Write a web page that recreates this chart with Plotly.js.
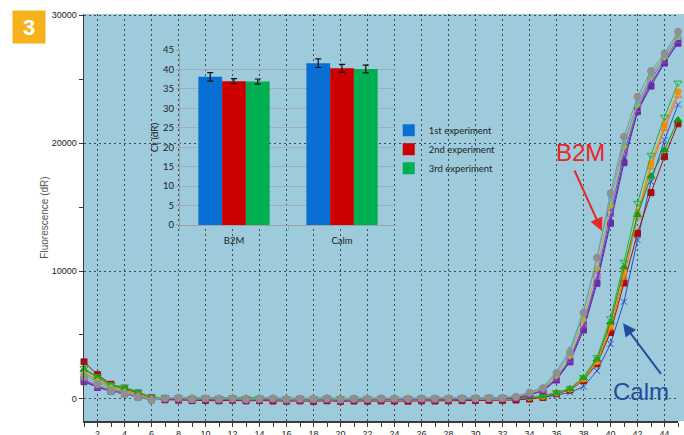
<!DOCTYPE html>
<html>
<head>
<meta charset="utf-8">
<script src="https://cdn.plot.ly/plotly-3.0.1.min.js"></script>
<style>html,body{margin:0;padding:0;background:#fff;}#chart{width:684px;height:435px;}</style>
</head>
<body>
<div id="chart"></div>
<script>
// ---- amplification curves (cycle 1..45) ----
const cycles = [1,2,3,4,5,6,7,8,9,10,11,12,13,14,15,16,17,18,19,20,21,22,23,24,25,26,27,28,29,30,31,32,33,34,35,36,37,38,39,40,41,42,43,44,45];

const b2mGray   = [1700,1150,600,380,120,-120, 60,80,-20,40,0,30,-20,10,40,-30,20,-10,30,-40,20,10,40,30,20,50,30,40,60,50,80,70, 180,490,850,2020,3650,6740,11040,16070,20490,23620,25620,27000,28700];
const b2mCyan   = [1900,1300,800,500,200,-50, 90,60,30,70,20,50,10,40,60,0,40,20,50,-10,40,30,60,50,40,70,50,60,80,70,110,100, 200,520,950,2150,3900,6900,11000,15700,20000,23200,25300,26800,28400];
const b2mOlive  = [2000,1400,900,550,250,0, 120,100,40,80,30,60,20,50,70,10,50,30,60,0,50,40,70,60,50,80,60,70,90,80,120,120, 170,420,780,1800,3350,6200,10200,15100,19700,23000,25200,26700,28300];
const b2mViolet = [1500,1000,700,450,200,-30, 50,30,-40,20,-30,0,-50,-20,10,-60,-10,-40,0,-70,-20,-30,0,-10,-20,10,-10,0,20,10,50,60, 110,380,720,1650,3100,5800,9600,14500,19200,22700,25000,26500,28100];
const b2mBlue   = [1400,950,650,420,180,-40, 40,20,-50,10,-40,-10,-60,-30,0,-70,-20,-50,-10,-80,-30,-40,-10,-20,-30,0,-20,-10,10,0,40,50, 90,350,680,1550,3000,5600,9300,14000,18800,22500,24700,26300,27900];
const b2mPurple = [1350,900,600,400,150,-60, 20,0,-70,-10,-60,-30,-80,-50,-20,-90,-40,-70,-30,-100,-50,-60,-30,-40,-50,-20,-40,-30,-10,-20,20,30, 60,300,630,1480,2900,5390,9040,13730,18460,22450,24450,26250,27800];

const calmGreenOpen = [2400,1750,1100,960,570,150, 100,120,80,90,60,100,70,80,60,40,60,50,80,40,60,50,70,60,50,70,60,80,90,100,120,110, 120,150,260,500,820,1700,3250,6300,10700,15300,19060,22030,24700];
const calmOrange    = [2100,1500,1000,700,400,80, 80,100,60,70,40,80,50,60,40,20,40,30,60,20,40,30,50,40,30,50,40,60,70,80,90,80, 90,110,200,470,770,1560,2950,5700,9900,14500,18400,21400,24000];
const calmOrangeTri = [2000,1450,950,650,350,60, 60,80,40,50,20,60,30,40,20,0,20,10,40,0,20,10,30,20,10,30,20,40,50,60,70,60, 70,90,180,450,740,1500,2850,5500,9500,14200,18100,21100,23700];
const calmGreen     = [2300,1650,1050,850,500,120, 90,110,70,80,50,90,60,70,50,30,50,40,70,30,50,40,60,50,40,60,50,70,80,90,100,90, 100,130,230,490,800,1650,3100,6000,10300,14400,17400,19450,21800];
const calmDarkRed   = [2900,1900,1150,800,450,100, -60,-90,-130,-110,-140,-100,-150,-120,-160,-170,-150,-180,-140,-190,-160,-170,-150,-160,-170,-150,-160,-140,-130,-120,-100,-110, -80,0,120,420,700,1450,2750,5200,9060,12940,16120,18930,21500];
const calmBlueX     = [1500,960,700,500,250,20, 40,60,0,30,-20,20,-10,10,-20,-40,-20,-30,0,-40,-20,-30,-10,-20,-30,-10,-20,0,10,20,30,20, 30,50,120,300,500,960,2200,4300,7600,12420,16980,20230,23000];

// ---- inset bar chart (Ct) ----
const genes = ['B2M', 'Calm'];
const expNames = ['1st experiment', '2nd experiment', '3rd experiment'];
const ct1 = [38.1, 41.6];
const ct2 = [37.0, 40.3];
const ct3 = [36.9, 40.1];
const err1 = [1.1, 1.1];
const err2 = [0.65, 1.0];
const err3 = [0.65, 1.0];

// ---- styles ----
const curveStyles = [
  {y: calmBlueX,     color: '#2d4fc4', symbol: 'x-thin-open',        size: 6},
  {y: calmDarkRed,   color: '#a50f0f', symbol: 'square',             size: 6},
  {y: calmOrangeTri, color: '#e8701a', symbol: 'triangle-up-open',   size: 6},
  {y: calmOrange,    color: '#ff8a00', symbol: 'circle',             size: 6},
  {y: calmGreen,     color: '#159a15', symbol: 'triangle-up',        size: 7},
  {y: calmGreenOpen, color: '#2fb02f', symbol: 'triangle-down-open', size: 7},
  {y: b2mPurple,     color: '#6f2aa0', symbol: 'square',             size: 6},
  {y: b2mBlue,       color: '#3a3fb8', symbol: 'triangle-up',        size: 4},
  {y: b2mViolet,     color: '#a43fc4', symbol: 'square-open',        size: 6},
  {y: b2mOlive,      color: '#b3ad2e', symbol: 'diamond',            size: 5},
  {y: b2mCyan,       color: '#3fb6c6', symbol: 'circle',             size: 4},
  {y: b2mGray,       color: '#8f8f8f', symbol: 'circle',             size: 7}
];

const traces = curveStyles.map(s => ({
  type: 'scatter', mode: 'lines+markers',
  x: cycles, y: s.y, xaxis: 'x', yaxis: 'y',
  line: {color: s.color, width: 1},
  marker: {color: s.color, symbol: s.symbol, size: s.size, line: {color: s.color, width: 1}},
  cliponaxis: false, showlegend: false, hoverinfo: 'skip'
}));

const barColors = ['#0a6fd2', '#cc0000', '#00b050'];
const barVals = [ct1, ct2, ct3];
const barErrs = [err1, err2, err3];
barVals.forEach((v, i) => {
  traces.push({
    type: 'bar', x: genes, y: v, name: expNames[i],
    xaxis: 'x2', yaxis: 'y2',
    marker: {color: barColors[i], line: {width: 0}},
    error_y: {type: 'data', array: barErrs[i], color: '#111', thickness: 1.2, width: 3},
    showlegend: true
  });
});

const bgBlue = '#9dcbdc';
const gridDots = '1.5px,3.5px';
const layout = {
  width: 684, height: 435,
  margin: {l: 84, r: 6, t: 14, b: 14, pad: 0},
  paper_bgcolor: '#ffffff',
  plot_bgcolor: 'rgba(0,0,0,0)',
  font: {family: 'Liberation Sans, Arial, sans-serif', size: 9, color: '#222'},
  barmode: 'group', bargap: 0.34, bargroupgap: 0,
  xaxis: {
    range: [1, 45], tick0: 0, dtick: 2,
    showgrid: true, gridcolor: '#3c4c53', griddash: gridDots, gridwidth: 1,
    zeroline: false, showline: true, linecolor: '#3a3a3a', linewidth: 1.5,
    ticks: 'outside', ticklen: 4, tickcolor: '#3a3a3a',
    minor: {dtick: 1, ticks: 'outside', ticklen: 4, tickcolor: '#3a3a3a', showgrid: false},
    tickfont: {size: 9, color: '#222'}
  },
  yaxis: {
    range: [-1720, 30080], tick0: 0, dtick: 10000, tickformat: 'd',
    showgrid: true, gridcolor: '#3c4c53', griddash: gridDots, gridwidth: 1,
    zeroline: false, showline: true, linecolor: '#3a3a3a', linewidth: 1.5,
    ticks: 'outside', ticklen: 4, tickcolor: '#3a3a3a',
    minor: {dtick: 5000, ticks: 'outside', ticklen: 4, tickcolor: '#3a3a3a', showgrid: false},
    tickfont: {size: 9, color: '#222'},
    title: {text: 'Fluorescence (dR)', font: {size: 10, color: '#555'}, standoff: 1}
  },
  xaxis2: {
    domain: [0.1616, 0.5253], anchor: 'y2', type: 'category',
    showgrid: false, zeroline: false, showline: true, linecolor: '#9aa4a8', linewidth: 1,
    ticks: 'outside', tickson: 'boundaries', ticklen: 4, tickcolor: '#9aa4a8',
    ticklabelstandoff: 7,
    tickfont: {family: 'Lato, sans-serif', size: 9.5, color: '#222'}
  },
  yaxis2: {
    domain: [0.4816, 0.9115], anchor: 'x2', range: [0, 45], dtick: 5,
    showgrid: true, gridcolor: '#a3aeb3', gridwidth: 1,
    zeroline: false, showline: true, linecolor: '#9aa4a8', linewidth: 1,
    ticks: 'outside', ticklen: 3, tickcolor: '#9aa4a8',
    tickfont: {family: 'Lato, sans-serif', size: 9.5, color: '#222'},
    title: {text: 'Ct (dR)', font: {family: 'Lato, sans-serif', size: 10, color: '#222'}, standoff: 2}
  },
  legend: {
    x: 0.513, y: 0.750, xanchor: 'left', yanchor: 'top',
    bgcolor: 'rgba(0,0,0,0)', borderwidth: 0, itemwidth: 30,
    font: {family: 'Lato, sans-serif', size: 9.5, color: '#222'},
    tracegroupgap: 0
  },
  shapes: [
    {type: 'rect', xref: 'paper', yref: 'paper', x0: 0, x1: 1.0101, y0: 0, y1: 1,
     layer: 'below', fillcolor: bgBlue, line: {width: 0}}
  ],
  annotations: [
    {xref: 'paper', yref: 'paper', x: -0.0926, y: 0.968, xanchor: 'center', yanchor: 'middle',
     text: '<b>3</b>', showarrow: false, width: 32, height: 32, bgcolor: '#f5b21a', borderpad: 0,
     font: {family: 'Liberation Sans, Arial, sans-serif', size: 22, color: '#ffffff'}},
    {xref: 'x', yref: 'y', x: 37.8, y: 19220, text: 'B2M', showarrow: false,
     font: {family: 'Liberation Sans, Arial, sans-serif', size: 24, color: '#e8262a'}},
    {xref: 'x', yref: 'y', x: 39.36, y: 13125, ax: -28, ay: -62, text: '', showarrow: true,
     arrowhead: 2, arrowsize: 1.3, arrowwidth: 2, arrowcolor: '#e8262a', standoff: 0},
    {xref: 'x', yref: 'y', x: 42.27, y: 586, text: 'Calm', showarrow: false,
     font: {family: 'Liberation Sans, Arial, sans-serif', size: 24, color: '#1f4e9c'}},
    {xref: 'x', yref: 'y', x: 40.93, y: 5914, ax: 39, ay: 52, text: '', showarrow: true,
     arrowhead: 2, arrowsize: 1.3, arrowwidth: 2, arrowcolor: '#1f4e9c', standoff: 0}
  ]
};

Plotly.newPlot('chart', traces, layout, {displayModeBar: false, staticPlot: true});
</script>
</body>
</html>
